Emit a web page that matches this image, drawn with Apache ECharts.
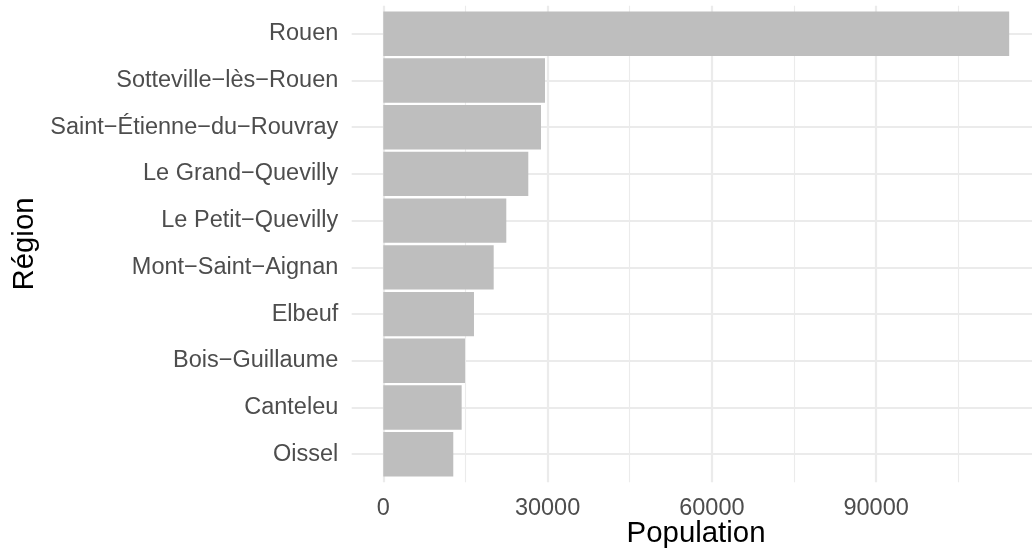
<!DOCTYPE html>
<html>
<head>
<meta charset="utf-8">
<script src="https://cdn.jsdelivr.net/npm/echarts@6/dist/echarts.min.js"></script>
<style>
  html, body { margin: 0; padding: 0; background: #ffffff; }
  #chart { width: 1032px; height: 552px; }
</style>
</head>
<body>
<div id="chart"></div>
<script>
const categories = ['Rouen', 'Sotteville\u2212lès\u2212Rouen', 'Saint\u2212Étienne\u2212du\u2212Rouvray', 'Le Grand\u2212Quevilly', 'Le Petit\u2212Quevilly', 'Mont\u2212Saint\u2212Aignan', 'Elbeuf', 'Bois\u2212Guillaume', 'Canteleu', 'Oissel'];
const population = [114300, 29530, 28800, 26480, 22460, 20160, 16560, 14920, 14310, 12780];
const xTickLabels = [0, 30000, 60000, 90000];

const FONT = '"Liberation Sans", Arial, Helvetica, sans-serif';
const GRID_COLOR = '#EBEBEB';

const chart = echarts.init(document.getElementById('chart'), null, { renderer: 'canvas' });
chart.setOption({
  animation: false,
  backgroundColor: '#ffffff',
  textStyle: { fontFamily: FONT },
  grid: [
    { left: 383.3, width: 657.1, top: 10.45, height: 467.1, outerBoundsMode: 'none', containLabel: false },
    { left: 351.7, width: 688.7, top: 33.8, height: 420.4, outerBoundsMode: 'none', containLabel: false },
    { left: 383.3, width: 657.1, top: 5.8, height: 476.4, outerBoundsMode: 'none', containLabel: false }
  ],
  xAxis: [
    { gridIndex: 0, type: 'value', min: 0, max: 120000, show: false },
    {
      gridIndex: 1, type: 'value', min: 0, max: 1,
      name: 'Population', nameLocation: 'middle', nameGap: 65,
      nameTextStyle: { fontSize: 29.4, color: '#000000', fontFamily: FONT },
      axisLine: { show: false }, axisTick: { show: false },
      axisLabel: { show: false }, splitLine: { show: false }
    },
    {
      gridIndex: 2, type: 'value', min: 0, max: 120000, interval: 30000,
      axisLine: { show: false }, axisTick: { show: false },
      axisLabel: {
        margin: 14, fontSize: 23.5, color: '#4D4D4D', fontFamily: FONT,
        showMaxLabel: false,
        formatter: v => (xTickLabels.indexOf(v) >= 0 ? String(v) : '')
      },
      splitLine: { show: true, lineStyle: { color: GRID_COLOR, width: 2.2 } },
      minorTick: { show: false, splitNumber: 2 },
      minorSplitLine: { show: true, lineStyle: { color: GRID_COLOR, width: 1.1 } }
    }
  ],
  yAxis: [
    {
      gridIndex: 0, type: 'category', data: categories, inverse: true,
      axisLine: { show: false }, axisTick: { show: false },
      axisLabel: { interval: 0, margin: 45, fontSize: 23.5, color: '#4D4D4D', fontFamily: FONT, padding: [5, 0, 0, 0] },
      splitLine: { show: false },
      name: 'Région', nameLocation: 'middle', nameGap: 336,
      nameTextStyle: { fontSize: 29.4, color: '#000000', fontFamily: FONT }
    },
    {
      gridIndex: 1, type: 'category', data: categories, inverse: true, boundaryGap: false,
      axisLine: { show: false }, axisTick: { show: false }, axisLabel: { show: false },
      splitLine: { show: true, interval: 0, lineStyle: { color: GRID_COLOR, width: 2.2 } }
    },
    { gridIndex: 2, type: 'value', show: false }
  ],
  series: [
    {
      type: 'bar', xAxisIndex: 0, yAxisIndex: 0,
      data: population,
      barCategoryGap: '5%',
      itemStyle: { color: '#BEBEBE' },
      silent: true
    }
  ]
});
</script>
</body>
</html>
